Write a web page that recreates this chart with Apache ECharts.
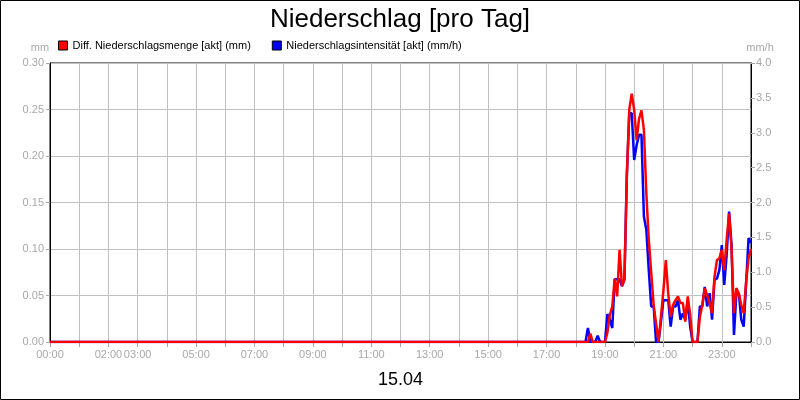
<!DOCTYPE html>
<html>
<head>
<meta charset="utf-8">
<script src="https://cdn.jsdelivr.net/npm/echarts@6/dist/echarts.min.js"></script>
<style>
html,body{margin:0;padding:0;background:#fff;}
#chart{width:800px;height:400px;}
</style>
</head>
<body>
<div id="chart"></div>
<script>
// Data (5-minute values)
const times = ['00:00','18:15','18:20','18:25','18:30','18:35','18:40','18:45','18:50','18:55',
  '19:00','19:05','19:10','19:15','19:20','19:25','19:30','19:35','19:40','19:45','19:50','19:55',
  '20:00','20:05','20:10','20:15','20:20','20:25','20:30','20:35','20:40','20:45','20:50','20:55',
  '21:00','21:05','21:10','21:15','21:20','21:25','21:30','21:35','21:40','21:45','21:50','21:55',
  '22:00','22:05','22:10','22:15','22:20','22:25','22:30','22:35','22:40','22:45','22:50','22:55',
  '23:00','23:05','23:10','23:15','23:20','23:25','23:30','23:35','23:40','23:45','23:50','23:55','24:00'];
const mengeMm = [0, 0,0,0,0.009,0,0,0,0,0,
  0,0.010,0.029,0.038,0.068,0.049,0.099,0.060,0.067,0.18,0.25,0.267,
  0.25,0.217,0.24,0.249,0.228,0.16,0.11,0.075,0.04,0.02,0,0.027,
  0.055,0.088,0.052,0.027,0.040,0.045,0.049,0.042,0.042,0.022,0.049,0.030,
  0,0,0,0.027,0.040,0.058,0.050,0.042,0.031,0.070,0.088,0.090,
  0.099,0.077,0.110,0.138,0.100,0.031,0.058,0.052,0.040,0.031,0.065,0.090,0.100];
const intensitaetMmh = [0, 0,0,0.20,0,0,0,0.09,0,0,
  0,0.40,0.32,0.20,0.90,0.90,0.90,0.80,0.91,2.40,3.28,3.28,
  2.61,2.82,2.97,2.97,1.80,1.61,1.03,0.51,0.51,0,0,0.29,
  0.60,0.60,0.60,0.22,0.51,0.51,0.60,0.32,0.41,0.32,0.60,0.22,
  0,0,0,0.51,0.51,0.79,0.51,0.70,0.32,0.89,0.91,1.03,
  1.39,0.82,1.25,1.87,1.40,0.10,0.70,0.70,0.32,0.22,0.84,1.49,1.42];
const hourLabels = ['00:00','02:00','03:00','05:00','07:00','09:00','11:00','13:00','15:00','17:00','19:00','21:00','23:00'];
const seriesNames = ['Diff. Niederschlagsmenge [akt] (mm)', 'Niederschlagsintensität [akt] (mm/h)'];

function toMin(t){ const p = t.split(':'); return (+p[0])*60 + (+p[1]); }
function pad(n){ return (n<10?'0':'')+n; }

const chart = echarts.init(document.getElementById('chart'), null, {renderer:'canvas'});
const font = 'Liberation Sans, Arial, sans-serif';
const gray = '#a8a8a8';

chart.setOption({
  animation:false,
  backgroundColor:'#fff',
  textStyle:{fontFamily:font},
  title:{text:'Niederschlag [pro Tag]', left:'center', top:2,
    textStyle:{fontSize:26, fontWeight:'normal', color:'#000', fontFamily:font}},
  legend:{
    left:53, top:35, itemWidth:9, itemHeight:9, itemGap:21,
    data:[{name:seriesNames[0], icon:'rect'},{name:seriesNames[1], icon:'rect'}],
    itemStyle:{borderColor:'#000', borderWidth:1},
    textStyle:{fontSize:11, color:'#000', fontFamily:font}
  },
  grid:{left:50, right:49, top:63, bottom:58, outerBoundsMode:'none', containLabel:false,
    show:true, borderColor:'#000', borderWidth:1, backgroundColor:'#fff'},
  xAxis:{
    type:'value', min:0, max:1440, interval:60,
    name:'15.04', nameLocation:'middle', nameGap:29,
    nameTextStyle:{fontSize:18, color:'#000', fontFamily:font},
    axisLine:{show:true, lineStyle:{color:'#000'}},
    axisTick:{show:true, length:5, lineStyle:{color:gray}},
    axisLabel:{color:gray, fontSize:11, margin:7, fontFamily:font,
      formatter:function(v){ const s = pad(Math.floor(v/60))+':00'; return hourLabels.indexOf(s)>=0 ? s : ''; }},
    splitLine:{show:true, lineStyle:{color:'#c0c0c0', width:1}}
  },
  yAxis:[
    {type:'value', min:0, max:0.3, interval:0.05, position:'left',
      name:'mm', nameLocation:'end', nameGap:10,
      nameTextStyle:{color:gray, fontSize:11, align:'center', padding:[0,20,0,0], fontFamily:font},
      axisLine:{show:true, lineStyle:{color:'#000'}},
      axisTick:{show:true, length:4, lineStyle:{color:gray}},
      axisLabel:{color:gray, fontSize:11, margin:6, fontFamily:font, formatter:function(v){return v.toFixed(2);}},
      splitLine:{show:true, lineStyle:{color:'#c0c0c0', width:1}}},
    {type:'value', min:0, max:4, interval:0.5, position:'right',
      name:'mm/h', nameLocation:'end', nameGap:10,
      nameTextStyle:{color:gray, fontSize:11, align:'center', padding:[0,0,0,18], fontFamily:font},
      axisLine:{show:true, lineStyle:{color:'#000'}},
      axisTick:{show:true, length:4, lineStyle:{color:gray}},
      axisLabel:{color:gray, fontSize:11, margin:5, fontFamily:font, formatter:function(v){return v.toFixed(1);}},
      splitLine:{show:false}}
  ],
  series:[
    {name:seriesNames[1], type:'line', yAxisIndex:1, showSymbol:false, symbol:'none', z:3,
      color:'#0000ff', lineStyle:{color:'#0000ff', width:2.5},
      data: times.map((t,i)=>[toMin(t), intensitaetMmh[i]])},
    {name:seriesNames[0], type:'line', yAxisIndex:0, showSymbol:false, symbol:'none', z:4,
      color:'#ff0000', lineStyle:{color:'#ff0000', width:2.5},
      data: times.map((t,i)=>[toMin(t), mengeMm[i]])}
  ],
  graphic:[{type:'rect', shape:{x:0.5,y:0.5,width:799,height:399}, style:{fill:null, stroke:'#000', lineWidth:1}, z:100}]
});
</script>
</body>
</html>
